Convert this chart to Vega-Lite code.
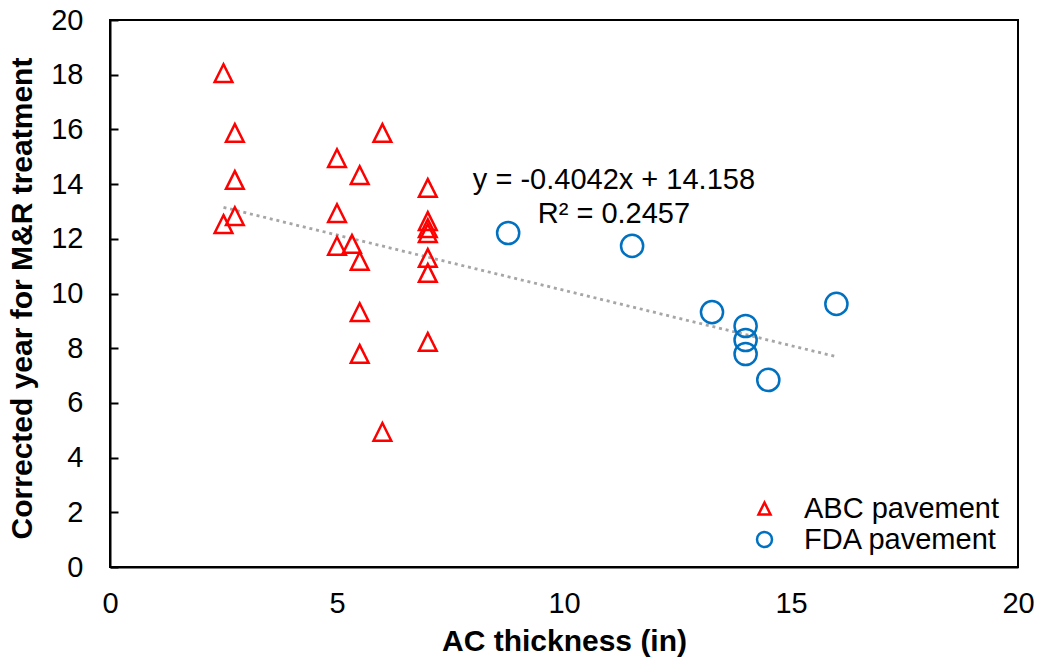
{
  "$schema": "https://vega.github.io/schema/vega-lite/v6.json",
  "width": 908,
  "height": 547,
  "autosize": {"type": "none"},
  "padding": {"left": 110, "top": 20, "right": 21, "bottom": 95},
  "background": "white",
  "config": {
    "font": "Liberation Sans",
    "view": {"stroke": "#000000", "strokeWidth": 2},
    "axis": {
      "grid": false,
      "labelFlush": false,
      "domainColor": "#000000",
      "domainWidth": 2,
      "labelColor": "#000000",
      "labelFontSize": 29,
      "titleColor": "#000000",
      "titleFontSize": 30,
      "titleFontWeight": "bold"
    }
  },
  "datasets": {
    "points": [
      {"thickness": 2.5, "year": 18.06, "type": "ABC pavement"},
      {"thickness": 2.5, "year": 12.54, "type": "ABC pavement"},
      {"thickness": 2.75, "year": 15.87, "type": "ABC pavement"},
      {"thickness": 2.75, "year": 14.15, "type": "ABC pavement"},
      {"thickness": 2.75, "year": 12.83, "type": "ABC pavement"},
      {"thickness": 5.0, "year": 14.95, "type": "ABC pavement"},
      {"thickness": 5.0, "year": 12.94, "type": "ABC pavement"},
      {"thickness": 5.0, "year": 11.74, "type": "ABC pavement"},
      {"thickness": 5.33, "year": 11.81, "type": "ABC pavement"},
      {"thickness": 5.5, "year": 14.33, "type": "ABC pavement"},
      {"thickness": 5.5, "year": 11.19, "type": "ABC pavement"},
      {"thickness": 5.5, "year": 9.32, "type": "ABC pavement"},
      {"thickness": 5.5, "year": 7.79, "type": "ABC pavement"},
      {"thickness": 6.0, "year": 15.87, "type": "ABC pavement"},
      {"thickness": 6.0, "year": 4.94, "type": "ABC pavement"},
      {"thickness": 7.0, "year": 13.86, "type": "ABC pavement"},
      {"thickness": 7.0, "year": 12.65, "type": "ABC pavement"},
      {"thickness": 7.0, "year": 12.39, "type": "ABC pavement"},
      {"thickness": 7.0, "year": 12.21, "type": "ABC pavement"},
      {"thickness": 7.0, "year": 11.3, "type": "ABC pavement"},
      {"thickness": 7.0, "year": 10.75, "type": "ABC pavement"},
      {"thickness": 7.0, "year": 8.23, "type": "ABC pavement"},
      {"thickness": 8.77, "year": 12.21, "type": "FDA pavement"},
      {"thickness": 11.5, "year": 11.74, "type": "FDA pavement"},
      {"thickness": 13.26, "year": 9.32, "type": "FDA pavement"},
      {"thickness": 14.0, "year": 8.81, "type": "FDA pavement"},
      {"thickness": 14.0, "year": 8.3, "type": "FDA pavement"},
      {"thickness": 14.0, "year": 7.79, "type": "FDA pavement"},
      {"thickness": 14.5, "year": 6.84, "type": "FDA pavement"},
      {"thickness": 16.0, "year": 9.62, "type": "FDA pavement"}
    ],
    "trend": [
      {"thickness": 2.5, "year": 13.15},
      {"thickness": 16.0, "year": 7.69}
    ],
    "labels": [
      {"thickness": 11.1, "year": 13.82, "text": "y = -0.4042x + 14.158"},
      {"thickness": 11.1, "year": 12.58, "text": "R² = 0.2457"}
    ]
  },
  "encoding": {
    "x": {
      "field": "thickness",
      "type": "quantitative",
      "scale": {"domain": [0, 20], "nice": false},
      "axis": {
        "title": "AC thickness (in)",
        "values": [0, 5, 10, 15, 20],
        "ticks": false,
        "labelPadding": 22,
        "titleBaseline": "alphabetic",
        "titleY": 83
      }
    },
    "y": {
      "field": "year",
      "type": "quantitative",
      "scale": {"domain": [0, 20], "nice": false},
      "axis": {
        "title": "Corrected year for M&R treatment",
        "values": [0, 2, 4, 6, 8, 10, 12, 14, 16, 18, 20],
        "tickSize": -8,
        "tickColor": "#000000",
        "tickWidth": 2,
        "labelPadding": 35,
        "titleBaseline": "alphabetic",
        "titleX": -79,
        "titleY": 278
      }
    }
  },
  "layer": [
    {
      "data": {"name": "trend"},
      "mark": {
        "type": "line",
        "stroke": "#A6A6A6",
        "strokeWidth": 2.8,
        "strokeDash": [3, 3.8]
      }
    },
    {
      "data": {"name": "points"},
      "mark": {
        "type": "point",
        "filled": false,
        "size": 490,
        "strokeWidth": 2.5,
        "opacity": 1
      },
      "encoding": {
        "shape": {
          "field": "type",
          "type": "nominal",
          "scale": {
            "domain": ["ABC pavement", "FDA pavement"],
            "range": ["M0,-0.8L0.8,0.8L-0.8,0.8Z", "circle"]
          },
          "legend": {
            "title": null,
            "orient": "none",
            "legendX": 640,
            "legendY": 474,
            "labelFontSize": 29,
            "labelColor": "#000000",
            "labelLimit": 0,
            "symbolSize": 225,
            "symbolStrokeWidth": 2.5,
            "labelOffset": 25,
            "rowPadding": 1,
            "padding": 0
          }
        },
        "color": {
          "field": "type",
          "type": "nominal",
          "scale": {
            "domain": ["ABC pavement", "FDA pavement"],
            "range": ["#FF0000", "#0070C0"]
          },
          "legend": {
            "title": null,
            "orient": "none",
            "legendX": 640,
            "legendY": 474,
            "labelFontSize": 29,
            "labelColor": "#000000",
            "labelLimit": 0,
            "symbolSize": 225,
            "symbolStrokeWidth": 2.5,
            "labelOffset": 25,
            "rowPadding": 1,
            "padding": 0
          }
        }
      }
    },
    {
      "data": {"name": "labels"},
      "mark": {
        "type": "text",
        "fontSize": 29,
        "align": "center",
        "baseline": "alphabetic",
        "color": "#000000"
      },
      "encoding": {"text": {"field": "text"}}
    }
  ]
}
